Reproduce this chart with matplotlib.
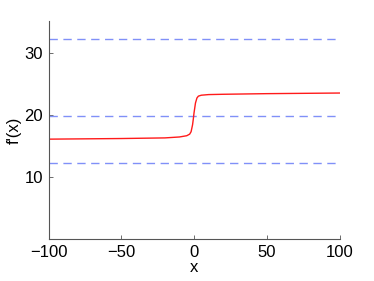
import matplotlib
matplotlib.use("Agg")
import matplotlib.pyplot as plt

# red curve
x_vals = [-100, -50, -20, -10, -5, -3, -2, -1, -0.5, 0, 1, 2, 3, 5, 10, 20, 50, 100]
fprime = [16.1, 16.2, 16.3, 16.45, 16.65, 16.9, 17.3, 18.4, 19.3, 20.3, 21.9, 22.7, 23.0, 23.15, 23.25, 23.3, 23.4, 23.5]

# dashed reference levels
levels = [32.1, 19.8, 12.3]

x_ticks = [-100, -50, 0, 50, 100]
y_ticks = [10, 20, 30]

plt.rcParams['font.family'] = ['Liberation Sans', 'DejaVu Sans']

fig = plt.figure(figsize=(3.74, 2.81), dpi=100)
ax = fig.add_axes([0.1297, 0.1477, 0.7781, 0.7763])

for lev in levels:
    ax.plot([x_vals[0], x_vals[-1]], [lev, lev], color='#8090f8', lw=1,
            dashes=(6, 4))
ax.plot(x_vals, fprime, color='#ff1a1a', lw=1)

ax.set_xlim(-100, 100)
ax.set_ylim(0, 35)
ax.set_xticks(x_ticks)
ax.set_yticks(y_ticks)
ax.set_xticklabels([str(t).replace('-', '\u2212') for t in x_ticks])

for side in ['top', 'right']:
    ax.spines[side].set_visible(False)
for side in ['left', 'bottom']:
    ax.spines[side].set_color('#555555')
    ax.spines[side].set_linewidth(0.8)

ax.tick_params(direction='in', length=3, width=0.6, color='#555555',
               labelsize=12, pad=4)
ax.set_xlabel('x', fontsize=12, labelpad=0)
ax.set_ylabel("f'(x)", fontsize=12, labelpad=2)

fig.savefig('out.png', dpi=100)
